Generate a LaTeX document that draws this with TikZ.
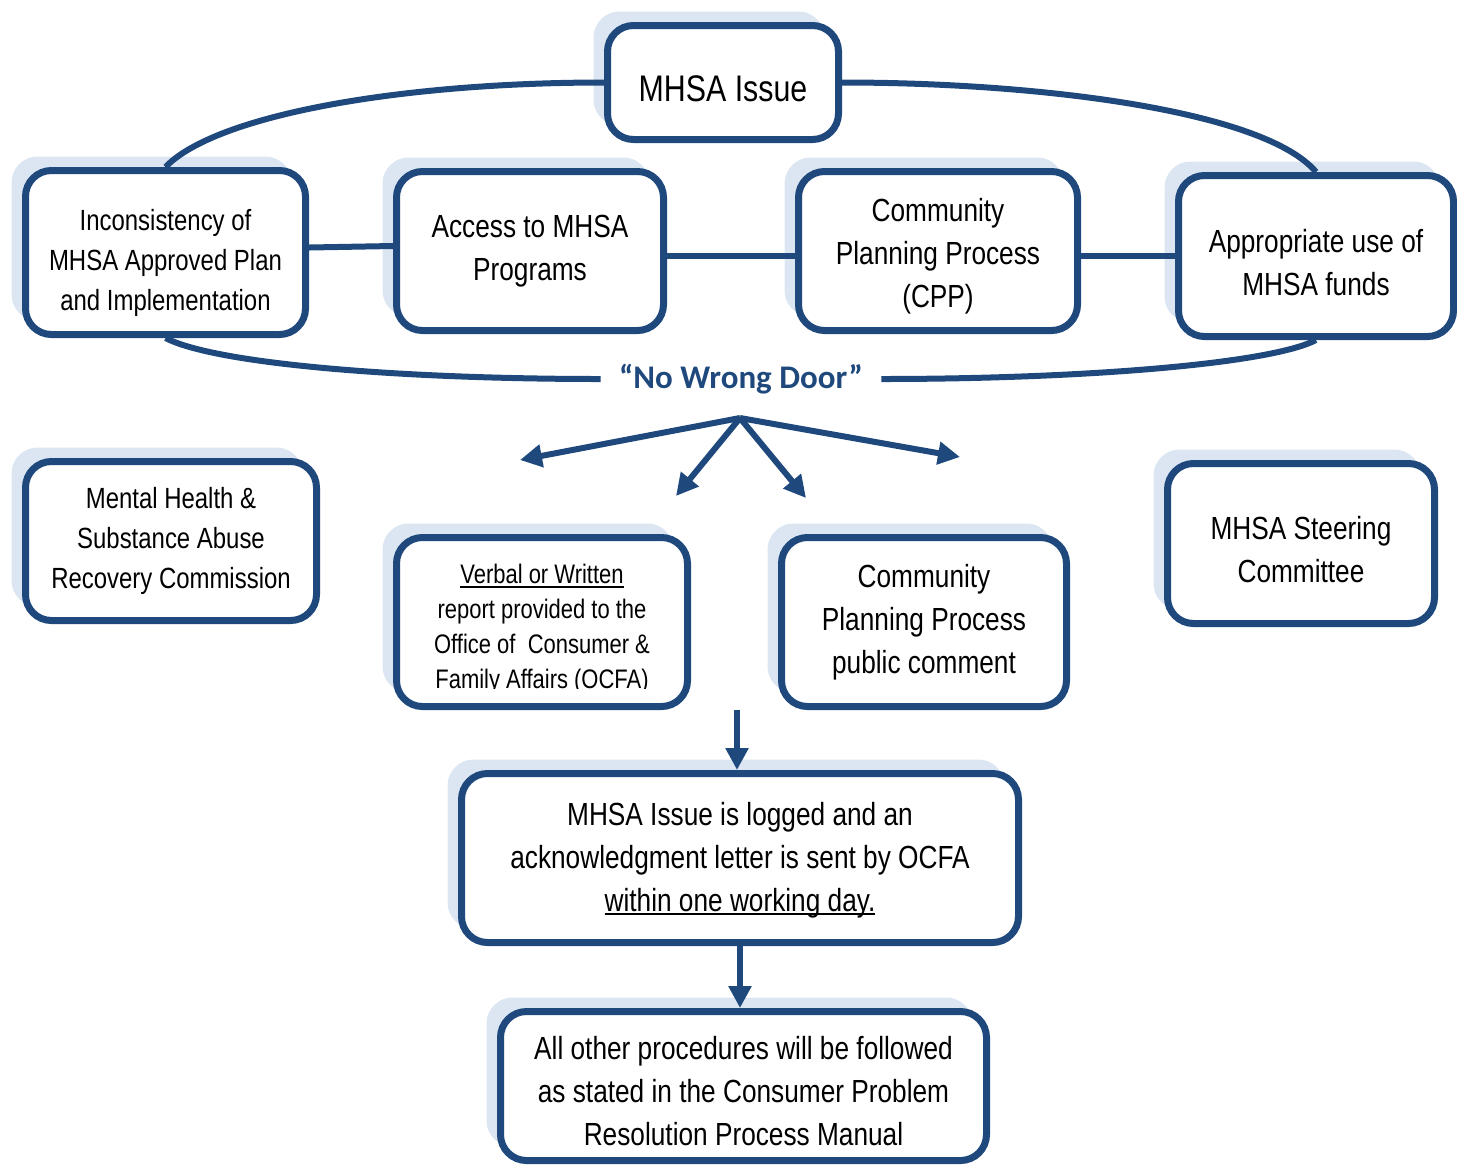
\documentclass[tikz,border=0pt]{standalone}
\usepackage{fontspec}
\setmainfont[FakeStretch=0.82]{Liberation Sans}
\newfontfamily\doorfont{Carlito}
\usetikzlibrary{arrows.meta,shadows}
\definecolor{navy}{RGB}{31,73,125}
\definecolor{paleblue}{RGB}{220,230,242}
\newcommand{\lift}[1]{\rule{0pt}{#1pt}}
\newsavebox{\ulbox}
\newcommand{\under}[1]{\sbox{\ulbox}{#1}\rlap{\usebox{\ulbox}}\rule[-2pt]{\wd\ulbox}{1pt}}

\begin{document}
\begin{tikzpicture}[
  x=0.5pt,y=-0.5pt,
  box/.style 2 args={draw=navy,line width=3.5pt,rounded corners=13pt,fill=white,
    align=center,inner sep=0pt,minimum width=#1pt,minimum height=#2pt,
    general shadow={fill=paleblue,shadow xshift=-7pt,shadow yshift=7pt}},
  link/.style={draw=navy,line width=3pt},
  arr/.style={link,-{Triangle[length=11pt,width=11pt]}},
  big/.style={font=\fontsize{16}{21.5}\selectfont},
  mid/.style={font=\fontsize{14.6}{20}\selectfont},
  small/.style={font=\fontsize{13.4}{17.5}\selectfont}
  ]
\useasboundingbox (0,0) rectangle (1457,1164);
% top row
\node[box={115.5}{57},font=\fontsize{18.5}{22}\selectfont] (issue) at (723,82.5) {\lift{19.5}MHSA Issue};
\node[box={140}{82},mid] (incons) at (165.5,252.5) {\lift{20.8}Inconsistency of\\MHSA Approved Plan\\and Implementation};
\node[box={133.5}{79.5},big] (access) at (530,251) {Access to MHSA\\Programs};
\node[box={139.5}{79.5},big] (cpp) at (938,251) {\lift{16.8}Community\\Planning Process\\(CPP)};
\node[box={137.5}{80.5},big] (funds) at (1316,256) {\lift{17.8}Appropriate use of\\MHSA funds};
\node[text=navy,inner xsep=9pt,font=\doorfont\bfseries\fontsize{16.5}{18}\selectfont] (door) at (741,379) {“No Wrong Door”};
% middle row
\node[box={145.5}{79.5},mid] (commission) at (171,541) {Mental Health \&\\Substance Abuse\\Recovery Commission};
\node[box={145.5}{84.5},small] (verbal) at (542,622) {\lift{16.8}\under{Verbal or Written}\\report provided to the\\Office of~ Consumer \&\\Family Affairs (OCFA)};
\node[box={142.5}{84.5},big] (comment) at (924,622) {Community\\Planning Process\\public comment};
\node[box={133.5}{80},big] (steering) at (1301,543.5) {\lift{17.8}MHSA Steering\\Committee};
% bottom
\node[box={278.5}{84.5},big] (logged) at (740,858) {\lift{13.8}MHSA Issue is logged and an\\acknowledgment letter is sent by OCFA\\\under{within one working day.}};
\node[box={243}{74.5},big] (manual) at (743.5,1086) {\lift{16.8}All other procedures will be followed\\as stated in the Consumer Problem\\Resolution Process Manual};
\fill[white] (425,689) rectangle (660,702);
% ring
\draw[link] (incons.north) .. controls +(50,-52) and +(-204,0) .. (issue.west);
\draw[link] (issue.east) .. controls +(204,0) and +(-50,-60) .. (funds.north);
\draw[link] (incons.south) .. controls +(50,26) and +(-200,0) .. (door.west);
\draw[link] (door.east) .. controls +(200,0) and +(-46,24) .. (funds.south);
\draw[link] ([yshift=2.5pt]incons.east) -- ([yshift=2.5pt]access.west);
\draw[link] ([yshift=-2.5pt]access.east) -- ([yshift=-2.5pt]cpp.west);
\draw[link] (cpp.east |- funds.west) -- (funds.west);
% fan of arrows
\coordinate (fan) at (740,418);
\coordinate (tip1) at (520,460);
\coordinate (tip2) at (676,496);
\coordinate (tip3) at (806,498);
\coordinate (tip4) at (960,457);
\foreach \t in {tip1,tip2,tip3,tip4}
  \draw[arr] (fan) -- (\t);
\coordinate (drop) at (737,710);
\draw[arr] (drop) -- (drop |- logged.north);
\draw[arr] (logged.south) -- (logged.south |- manual.north);
\end{tikzpicture}
\end{document}
